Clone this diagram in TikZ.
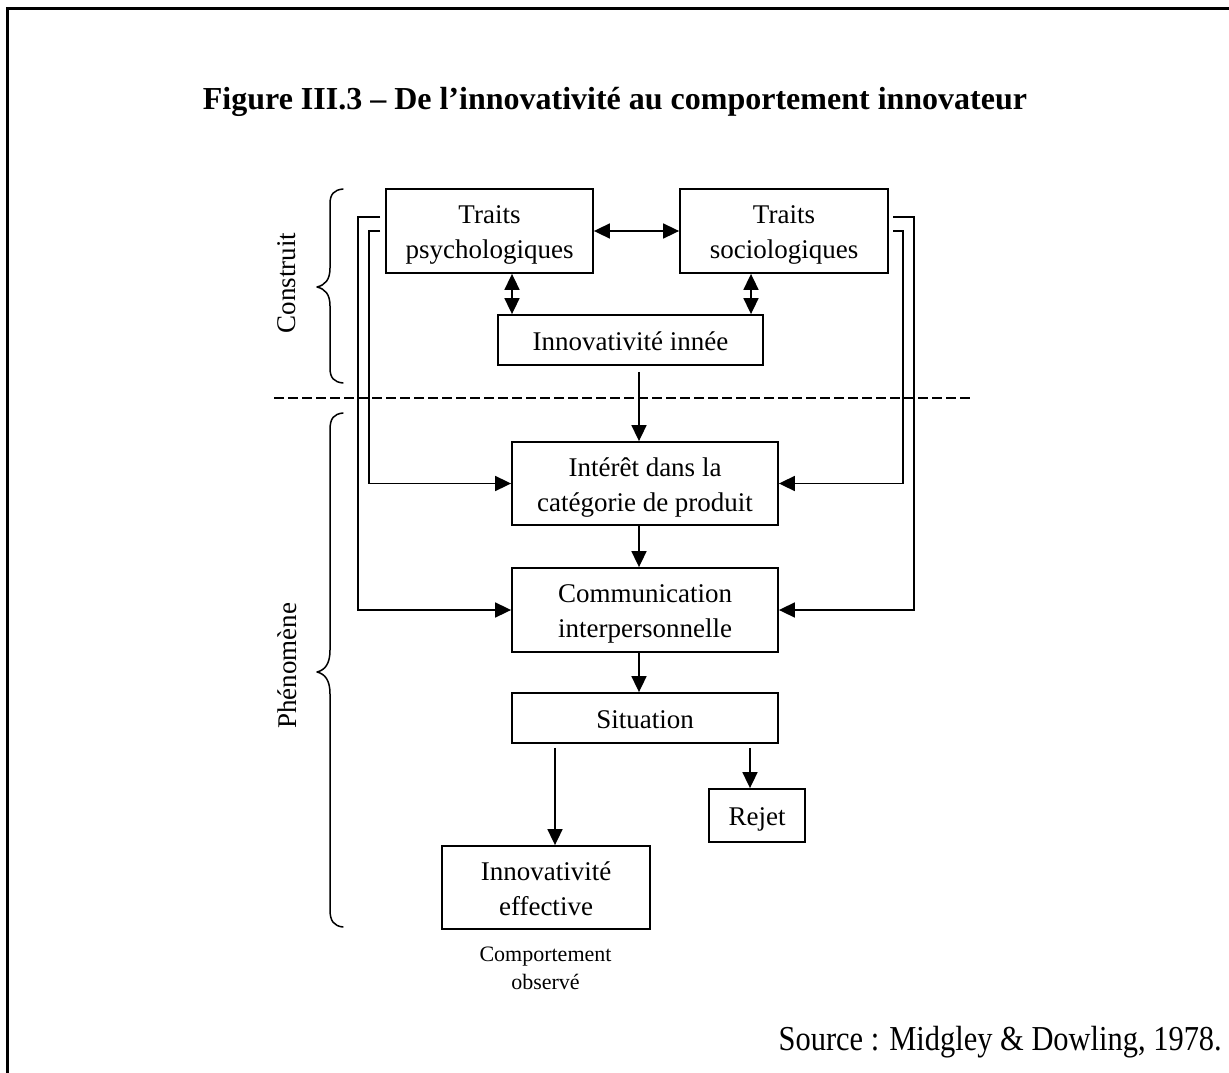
\documentclass[tikz,border=0pt]{standalone}
\usepackage{fontspec}
\setmainfont{Liberation Serif}
\newfontfamily\srcfont[FakeStretch=0.87]{Liberation Serif}
\usetikzlibrary{arrows.meta,calc}
\newcommand\sline{\rule[-7pt]{0pt}{34pt}}
\begin{document}
\begin{tikzpicture}[x=1pt,y=-1pt,
  box/.style={draw,line width=1.8pt,inner sep=0pt,align=center,font=\fontsize{27}{35}\selectfont},
  arr/.style={line width=1.7pt,-{Triangle[length=16pt,width=15pt]}},
  dbl/.style={line width=1.7pt,{Triangle[length=16pt,width=15pt]}-{Triangle[length=16pt,width=15pt]}},
  brace/.style={line width=1.5pt,line cap=round,line join=round},
  sidelabel/.style={rotate=90,font=\fontsize{27}{30}\selectfont,inner sep=0pt}]
\useasboundingbox (0,0) rectangle (1229,1073);
% frame
\draw[line width=3.5pt] (1240,8.5) -- (7.5,8.5) -- (7.5,1085);
% title
\node[anchor=base,inner sep=0pt,font=\fontsize{32}{38}\selectfont\bfseries] (title) at (615,109) {Figure III.3 – De l’innovativité au comportement innovateur};
% boxes
\node[box,minimum width=207pt,minimum height=84pt] (tp) at (489.5,231) {\sline Traits\\\sline psychologiques};
\node[box,minimum width=208pt,minimum height=84pt] (ts) at (784,231) {\sline Traits\\\sline sociologiques};
\node[box,minimum width=265pt,minimum height=50pt] (inn) at (630.5,340) {\sline Innovativité innée};
\node[box,minimum width=266pt,minimum height=83pt] (int) at (645,483.5) {\sline Intérêt dans la\\\sline catégorie de produit};
\node[box,minimum width=266pt,minimum height=84pt] (com) at (645,610) {\sline Communication\\\sline interpersonnelle};
\node[box,minimum width=266pt,minimum height=50pt] (sit) at (645,718) {\sline Situation};
\node[box,minimum width=96pt,minimum height=53pt] (rej) at (757,815.5) {\sline Rejet};
\node[box,minimum width=208pt,minimum height=83pt] (eff) at (546,887.5) {\sline Innovativité\\\sline effective};
\node[align=center,inner sep=0pt,font=\fontsize{22}{28}\selectfont] (obs) at (545.5,968) {Comportement\\observé};
\node[anchor=base east,inner sep=0pt,font=\srcfont\fontsize{35}{40}\selectfont] (src) at (1222,1050) {Source : Midgley \& Dowling, 1978.};
% side labels
\node[sidelabel] (cons) at (287,283) {Construit};
\node[sidelabel] (phen) at (287,666) {Phénomène};
% braces
\draw[brace] (343,189) .. controls (334,190) and (330,194) .. (330,204) -- (330,268)
  .. controls (330,280) and (325,285) .. (317,287) .. controls (325,289) and (330,294) .. (330,306)
  -- (330,368) .. controls (330,378) and (334,382) .. (343,383);
\draw[brace] (343,413) .. controls (334,414) and (330,418) .. (330,430) -- (330,650)
  .. controls (330,664) and (325,670) .. (317,672) .. controls (325,674) and (330,680) .. (330,694)
  -- (330,910) .. controls (330,921) and (334,926) .. (343,927);
% dashed separator
\coordinate (dl) at (274,398);
\coordinate (dr) at (973,398);
\draw[line width=2.5pt,dash pattern=on 10pt off 4pt] (dl) -- (dr);
% helper coordinates
\coordinate (ax1) at (512,0);
\coordinate (ax2) at (751,0);
\coordinate (ax3) at (639,0);
\coordinate (ax4) at (555,0);
\coordinate (ax5) at (750,0);
\coordinate (lo) at (380,217);
\coordinate (li) at (380,231);
\coordinate (ro) at (893,217);
\coordinate (ri) at (893,231);
% connectors
\draw[dbl] (tp.east) -- (ts.west);
\draw[dbl] (tp.south -| ax1) -- (inn.north -| ax1);
\draw[dbl] (ts.south -| ax2) -- (inn.north -| ax2);
\draw[arr,shorten <=6pt] (inn.south -| ax3) -- (int.north -| ax3);
\draw[arr] (int.south -| ax3) -- (com.north -| ax3);
\draw[arr] (com.south -| ax3) -- (sit.north -| ax3);
\draw[arr,shorten <=4pt] (sit.south -| ax4) -- (eff.north -| ax4);
\draw[arr,shorten <=4pt] (sit.south -| ax5) -- (rej.north -| ax5);
\draw[arr] (lo) -- ++(-22,0) |- (com.west);
\draw[arr] (li) -- ++(-11,0) |- (int.west);
\draw[arr] (ro) -- ++(21,0) |- (com.east);
\draw[arr] (ri) -- ++(10,0) |- (int.east);
\end{tikzpicture}
\end{document}
